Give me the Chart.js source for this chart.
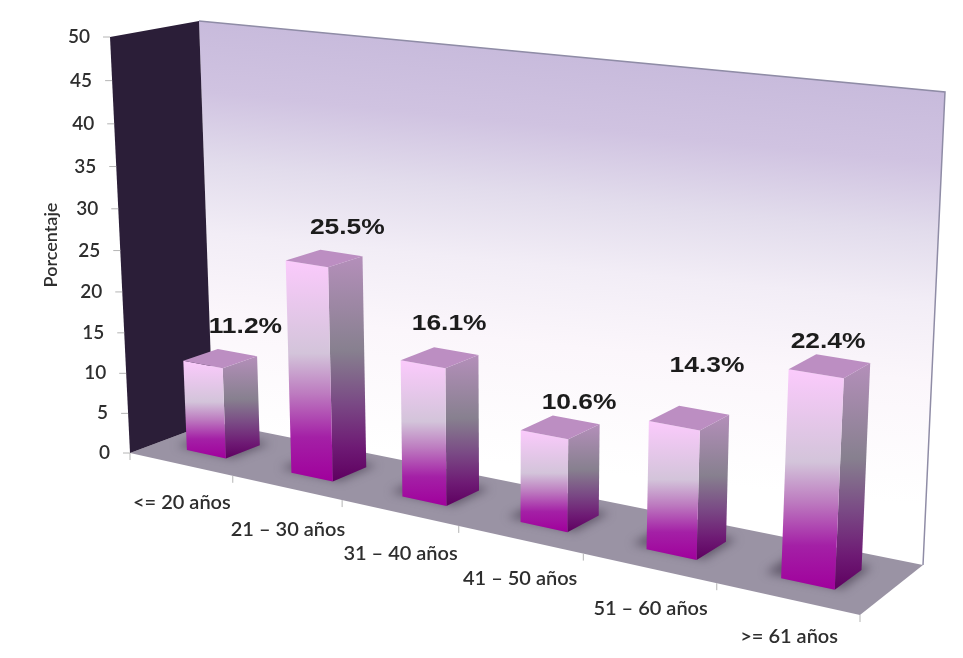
<!DOCTYPE html>
<html>
<head>
<meta charset="utf-8">
<title>Porcentaje por edad</title>
<script src="https://cdn.jsdelivr.net/npm/chart.js@4/dist/chart.umd.min.js"></script>
<style>
  html, body { margin: 0; padding: 0; background: #fff; }
  canvas { display: block; }
</style>
</head>
<body>
<canvas id="mycanvas" width="963" height="658"></canvas>
<script>
var categories = ['<= 20 años', '21 – 30 años', '31 – 40 años', '41 – 50 años', '51 – 60 años', '>= 61 años'];
var values = [11.2, 25.5, 16.1, 10.6, 14.3, 22.4];
var tickStep = 5;
var tickMax = 50;

// hand placement of the labels around each bar, [dx, dy]
var valueLabelNudge = [[8, -26], [6, -25], [-7, -27], [3, -17], [3, -44], [-15, -17]];
var categoryLabelNudge = [[-2, 27], [3, 29], [-1, 28], [-6, 25], [-9, 25], [-22, 22]];

// corners of the box the chart sits in: front plane and back wall
var frontQuad = [[130, 453], [860, 615], [885, 112], [110, 37]];
var backQuad = [[213, 422], [923, 565], [945, 92], [199, 21]];
var barDepth = [0.31, 0.72];

function quadMap(q) {
	var sx = q[0][0] - q[1][0] + q[2][0] - q[3][0];
	var sy = q[0][1] - q[1][1] + q[2][1] - q[3][1];
	var dx1 = q[1][0] - q[2][0], dx2 = q[3][0] - q[2][0];
	var dy1 = q[1][1] - q[2][1], dy2 = q[3][1] - q[2][1];
	var den = dx1 * dy2 - dx2 * dy1;
	var g = (sx * dy2 - dx2 * sy) / den;
	var h = (dx1 * sy - sx * dy1) / den;
	var a = q[1][0] - q[0][0] + g * q[1][0], b = q[3][0] - q[0][0] + h * q[3][0];
	var d = q[1][1] - q[0][1] + g * q[1][1], e = q[3][1] - q[0][1] + h * q[3][1];
	return function(u, v) {
		var w = g * u + h * v + 1;
		return [(a * u + b * v + q[0][0]) / w, (d * u + e * v + q[0][1]) / w];
	};
}
var frontMap = quadMap(frontQuad);
var backMap = quadMap(backQuad);

// u along the categories, v up the value axis, d into the depth; all 0..1
function project(u, v, d) {
	var f = frontMap(u, v), b = backMap(u, v);
	return [f[0] + (b[0] - f[0]) * d, f[1] + (b[1] - f[1]) * d];
}

function fillPoly(ctx, pts, fill) {
	ctx.beginPath();
	pts.forEach(function(p, i) {
		if (i == 0) ctx.moveTo(p[0], p[1]);
		else ctx.lineTo(p[0], p[1]);
	});
	ctx.closePath();
	ctx.fillStyle = fill;
	ctx.fill();
}

function ramp(ctx, y0, y1, stops) {
	var grad = ctx.createLinearGradient(0, y0, 0, y1);
	stops.forEach(function(s) { grad.addColorStop(s[0], s[1]); });
	return grad;
}

var box3d = {
	id: 'box3d',
	beforeDatasetsDraw: function(chart) {
		var ctx = chart.ctx;
		var yScale = chart.scales.y;
		var a = chart.chartArea;

		ctx.save();
		// back wall
		var wall = ctx.createLinearGradient(600, 60, 560, 470);
		wall.addColorStop(0, '#c8bbdc');
		wall.addColorStop(0.17, '#d0c3e1');
		wall.addColorStop(0.34, '#e2dcec');
		wall.addColorStop(0.51, '#f2edf6');
		wall.addColorStop(0.7, '#fbf6fb');
		wall.addColorStop(1, '#ffffff');
		fillPoly(ctx, [project(0, 0, 1), project(1, 0, 1), project(1, 1, 1), project(0, 1, 1)], wall);
		ctx.strokeStyle = '#8f8ca6';
		ctx.lineWidth = 1.5;
		ctx.beginPath();
		var pa = project(0, 1, 1), pb = project(1, 1, 1), pc = project(1, 0, 1);
		ctx.moveTo(pa[0], pa[1]);
		ctx.lineTo(pb[0], pb[1]);
		ctx.lineTo(pc[0], pc[1]);
		ctx.stroke();

		// floor and left wall
		fillPoly(ctx, [project(0, 0, 0), project(1, 0, 0), project(1, 0, 1), project(0, 0, 1)], '#9a93a4');
		fillPoly(ctx, [project(0, 0, 0), project(0, 0, 1), project(0, 1, 1), project(0, 1, 0)], '#2b1e38');

		// value axis follows the leaning front edge
		ctx.font = '600 19px Lato';
		ctx.textAlign = 'right';
		ctx.textBaseline = 'middle';
		yScale.ticks.forEach(function(t) {
			var p = project(0, (t.value - yScale.min) / (yScale.max - yScale.min), 0);
			ctx.strokeStyle = '#b4b4b4';
			ctx.lineWidth = 1;
			ctx.beginPath();
			ctx.moveTo(p[0] - 7, p[1]);
			ctx.lineTo(p[0], p[1]);
			ctx.stroke();
			ctx.fillStyle = '#2e2e2e';
			ctx.fillText(t.label, p[0] - 20, p[1]);
		});

		// category ticks and labels along the front of the floor
		var n = categories.length;
		ctx.font = '600 20px Lato';
		for (var i = 0; i <= n; i++) {
			var p = project(i / n, 0, 0);
			ctx.strokeStyle = '#b4b4b4';
			ctx.beginPath();
			ctx.moveTo(p[0], p[1]);
			ctx.lineTo(p[0], p[1] + 7);
			ctx.stroke();
			if (i > 0) {
				ctx.fillStyle = '#2e2e2e';
				ctx.fillText(categories[i - 1], p[0] + categoryLabelNudge[i - 1][0], p[1] + categoryLabelNudge[i - 1][1]);
			}
		}

		// soft shadows under the bars
		var meta = chart.getDatasetMeta(0);
		ctx.filter = 'blur(5px)';
		meta.data.forEach(function(bar) {
			var u0 = (bar.x - bar.width / 2 - a.left) / a.width - 0.022;
			var u1 = (bar.x + bar.width / 2 - a.left) / a.width + 0.006;
			fillPoly(ctx, [
				project(u0, 0, barDepth[0] + 0.04), project(u1, 0, barDepth[0] + 0.04),
				project(u1, 0, barDepth[1] + 0.08), project(u0, 0, barDepth[1] + 0.08)
			], 'rgba(74, 66, 84, 0.7)');
		});
		ctx.restore();
	},
	afterDatasetsDraw: function(chart) {
		var ctx = chart.ctx;
		var a = chart.chartArea;
		var meta = chart.getDatasetMeta(0);

		ctx.save();
		meta.data.forEach(function(bar, i) {
			var u0 = (bar.x - bar.width / 2 - a.left) / a.width;
			var u1 = (bar.x + bar.width / 2 - a.left) / a.width;
			var v = (bar.base - bar.y) / a.height;
			var d0 = barDepth[0], d1 = barDepth[1];

			var fl0 = project(u0, 0, d0), fr0 = project(u1, 0, d0), br0 = project(u1, 0, d1);
			var fl1 = project(u0, v, d0), fr1 = project(u1, v, d0), br1 = project(u1, v, d1), bl1 = project(u0, v, d1);

			fillPoly(ctx, [br0, fr0, fr1, br1], ramp(ctx, br1[1], fr0[1], [
				[0, '#b48fba'], [0.42, '#87808f'], [0.65, '#7a4a85'], [0.85, '#6e1a74'], [1, '#5e0060']
			]));
			fillPoly(ctx, [fl0, fr0, fr1, fl1], ramp(ctx, fl1[1], fr0[1], [
				[0, '#fbcafc'], [0.42, '#d3c4da'], [0.6, '#bd7cc0'], [0.8, '#a420a6'], [1, '#a0009c']
			]));
			fillPoly(ctx, [fl1, fr1, br1, bl1], '#bc8ec2');
		});

		// value labels, drawn last so they sit over the bars and the wall
		ctx.fillStyle = '#1c1c1c';
		ctx.textAlign = 'center';
		ctx.textBaseline = 'middle';
		ctx.font = 'bold 22px "Liberation Sans"';
		meta.data.forEach(function(bar, i) {
			var u = (bar.x - a.left) / a.width;
			var v = (bar.base - bar.y) / a.height;
			var p = project(u, v, barDepth[1]);
			ctx.save();
			ctx.translate(p[0] + valueLabelNudge[i][0], p[1] + valueLabelNudge[i][1]);
			ctx.scale(1.2, 1);
			ctx.fillText(values[i].toFixed(1) + '%', 0, 0);
			ctx.restore();
		});
		ctx.restore();
	}
};

var ctx = document.getElementById('mycanvas');
var barGraph = new Chart(ctx, {
	type: 'bar',
	plugins: [box3d],
	data: {
		labels: categories,
		datasets: [{
			label: 'Porcentaje',
			data: values,
			backgroundColor: 'rgba(0,0,0,0)',
			barPercentage: 0.38,
			categoryPercentage: 1
		}]
	},
	options: {
		responsive: false,
		animation: false,
		layout: { padding: { left: 40, top: 37, right: 103, bottom: 205 } },
		plugins: { legend: { display: false }, tooltip: { enabled: false } },
		scales: {
			x: { display: false },
			y: {
				min: 0,
				max: tickMax,
				afterFit: function(scale) { scale.width = 90; },
				ticks: { display: false, stepSize: tickStep },
				grid: { display: false },
				border: { display: false },
				title: {
					display: true,
					text: 'Porcentaje',
					color: '#2e2e2e',
					font: { family: 'Lato', size: 18, weight: '600' },
					padding: 0
				}
			}
		}
	}
});
</script>
</body>
</html>
